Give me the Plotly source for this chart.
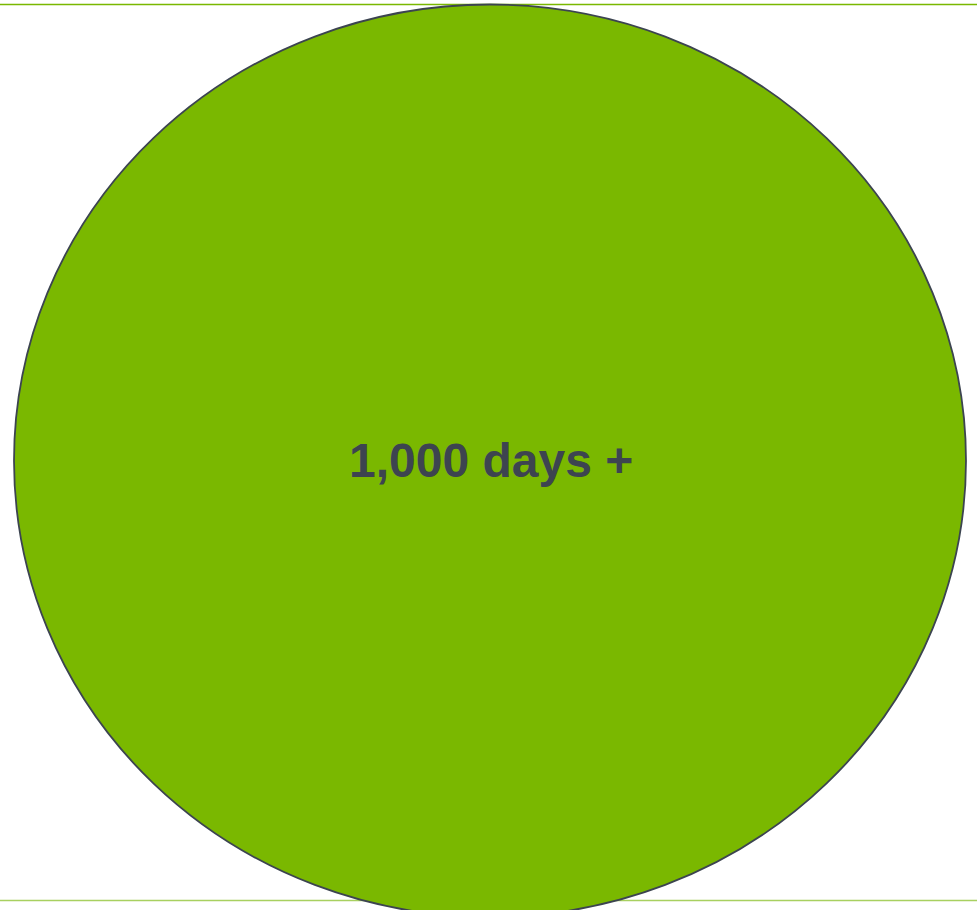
import plotly.graph_objects as go

categories = ["1,000 days +"]
values = [1]  # relative bubble radius
fill_colors = ["#7ab800"]

r = values[0]
fig = go.Figure()

# bubble as an ellipse in data coordinates
fig.add_shape(type="circle", xref="x", yref="y",
              x0=-r, x1=r, y0=-r, y1=r,
              fillcolor=fill_colors[0],
              line=dict(color="#3c4450", width=1.8),
              layer="below")

fig.add_trace(go.Scatter(x=[0], y=[0], mode="markers", marker=dict(opacity=0),
                         hoverinfo="skip", showlegend=False))

fig.add_annotation(x=0, y=0, xref="x", yref="y", text="<b>" + categories[0] + "</b>",
                   showarrow=False, yshift=0, xshift=1,
                   font=dict(family="Liberation Sans, Arial, sans-serif", size=48, color="#3d4450"))

# frame lines top and bottom
fig.add_shape(type="line", xref="paper", yref="paper", x0=0, x1=1,
              y0=1 - 4.5/910, y1=1 - 4.5/910,
              line=dict(color="#7ab800", width=1.5), layer="below")
fig.add_shape(type="line", xref="paper", yref="paper", x0=0, x1=1,
              y0=1 - 900.5/910, y1=1 - 900.5/910,
              line=dict(color="#a8d060", width=1.5), layer="below")

fig.update_layout(
    width=977, height=910,
    margin=dict(l=0, r=0, t=0, b=0),
    paper_bgcolor="white", plot_bgcolor="white",
    xaxis=dict(range=[-490/476, (977-490)/476], visible=False, fixedrange=True),
    yaxis=dict(range=[-(910-460.75)/456.25, 460.75/456.25], visible=False, fixedrange=True),
    showlegend=False,
)

fig.write_html("out.html", config={"displayModeBar": False},
               post_script="document.body.style.margin='0';document.body.style.overflow='hidden';")
